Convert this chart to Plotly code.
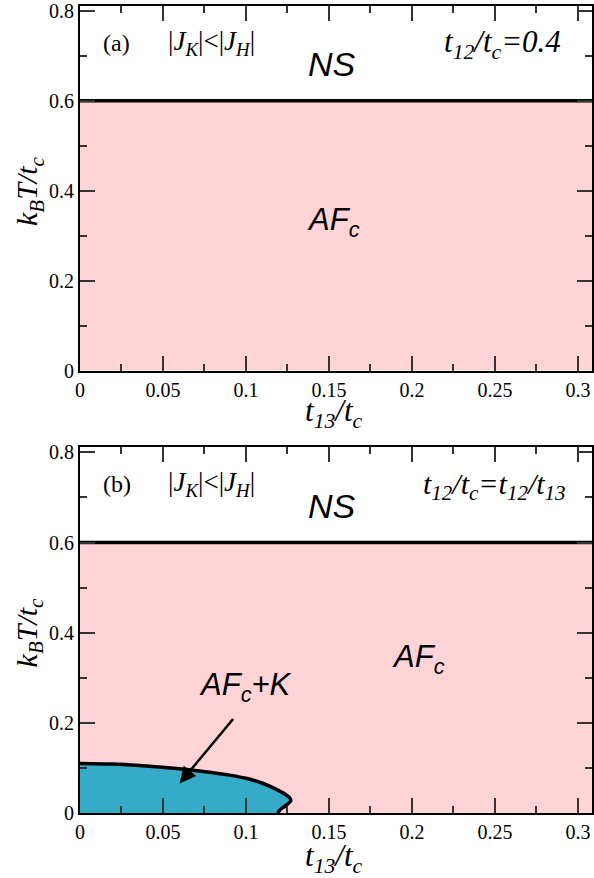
import plotly.graph_objects as go

# ---- data ----
x_range = [0, 0.3085]
y_range = [0, 0.811]
t13_full = [0, 0.32]          # extent of the phase regions along t13/tc
T_ns = [0.6, 0.6]             # NS / AFc transition temperature
# AFc+K boundary (panel b)
t13_b = [0, 0.02, 0.04, 0.063, 0.072, 0.09, 0.10, 0.11, 0.118, 0.1235, 0.1265, 0.127, 0.1255, 0.1235, 0.121, 0.119]
T_b = [0.110, 0.1085, 0.104, 0.097, 0.093, 0.084, 0.077, 0.066, 0.053, 0.042, 0.033, 0.027, 0.021, 0.015, 0.009, 0.0]

x_dtick = 0.05
y_dtick = 0.2

PINK = "#FFD4D6"
BLUE = "#36ABC8"
SERIF = "Liberation Serif"
SANS = "Liberation Sans"

fig = go.Figure()

for xa, ya in [("x", "y"), ("x2", "y2")]:
    fig.add_trace(go.Scatter(x=t13_full, y=T_ns, mode="lines", xaxis=xa, yaxis=ya,
                             line=dict(color="black", width=3.5), fill="tozeroy",
                             fillcolor=PINK, showlegend=False, hoverinfo="skip"))

# blue region (fill)
fig.add_trace(go.Scatter(x=t13_b + [0], y=T_b + [0], mode="lines", xaxis="x2", yaxis="y2",
                         fill="toself", fillcolor=BLUE, line=dict(width=0),
                         showlegend=False, hoverinfo="skip"))
fig.add_trace(go.Scatter(x=t13_b, y=T_b, mode="lines", xaxis="x2", yaxis="y2",
                         line=dict(color="black", width=3.5, shape="spline", smoothing=0.6),
                         showlegend=False, hoverinfo="skip"))

axis_common = dict(showline=True, linewidth=2, linecolor="black", mirror="allticks",
                   ticks="inside", ticklen=15, tickwidth=1.5, tickcolor="#333",
                   showgrid=False, zeroline=False, ticklabeloverflow="allow",
                   tickfont=dict(family=SERIF, size=20, color="black"))
minor_x = dict(ticks="inside", ticklen=7, dtick=x_dtick / 2, tickwidth=1.5, tickcolor="#333")
minor_y = dict(ticks="inside", ticklen=7, dtick=y_dtick / 2, tickwidth=1.5, tickcolor="#333")

fig.update_layout(
    width=594, height=878,
    margin=dict(l=80, r=0, t=5, b=65),
    font=dict(family=SERIF, color="black"),
    plot_bgcolor="white", paper_bgcolor="white",
    xaxis=dict(domain=[0, 1], range=x_range, anchor="y", tick0=0, dtick=x_dtick, minor=minor_x, **axis_common),
    yaxis=dict(domain=[0.5483, 1], range=y_range, anchor="x", tick0=0, dtick=y_dtick, minor=minor_y, **axis_common),
    xaxis2=dict(domain=[0, 1], range=x_range, anchor="y2", tick0=0, dtick=x_dtick, minor=minor_x, **axis_common),
    yaxis2=dict(domain=[0, 0.453], range=y_range, anchor="x2", tick0=0, dtick=y_dtick, minor=minor_y, **axis_common),
)

ann = []
def A(text, x, y, xref, yref, size, family, **kw):
    ann.append(dict(text=text, x=x, y=y, xref=xref, yref=yref, showarrow=False,
                    xanchor="center", yanchor="middle",
                    font=dict(family=family, size=size, color="black"), **kw))

jk = "|<i>J</i><sub><i>K</i></sub>|&lt;|<i>J</i><sub><i>H</i></sub>|"
panels = [("x", "y", "(a)", "<i>t</i><sub><i>12</i></sub><i>/t</i><sub><i>c</i></sub><i>=0.4</i>", 0.2545, 0.1525, 0.331),
          ("x2", "y2", "(b)", "<i>t</i><sub><i>12</i></sub><i>/t</i><sub><i>c</i></sub><i>=t</i><sub><i>12</i></sub><i>/t</i><sub><i>13</i></sub>", 0.2495, 0.204, 0.341)]
for (xr, yr, lab, right, rx, afx, afy) in panels:
    A(lab, 0.022, 0.729, xr, yr, 24, SERIF)
    A(jk, 0.0795, 0.729, xr, yr, 27, SERIF)
    A("<i>NS</i>", 0.152, 0.682, xr, yr, 34, SANS)
    A(right, rx, 0.726, xr, yr, 31 if xr == "x" else 30, SERIF)
    A("<i>AF</i><sub><i>c</i></sub>", afx, afy, xr, yr, 31, SANS)

A("<i>AF</i><sub><i>c</i></sub><i>+K</i>", 0.0996, 0.279, "x2", "y2", 31, SANS)
ann.append(dict(x=0.060, y=0.0656, ax=0.093, ay=0.212, xref="x2", yref="y2", axref="x2", ayref="y2",
                text="", showarrow=True, arrowhead=2, arrowsize=1.3, arrowwidth=2.5, arrowcolor="black"))

# axis titles (positions given in pixels, converted to paper fractions)
W, H, L, R, T, B = 594, 878, 80, 0, 5, 65
def px(x): return (x - L) / (W - L - R)
def py(y): return (H - y - B) / (H - T - B)

ytitle = "<i>k</i><sub><i>B</i></sub><i>T/t</i><sub><i>c</i></sub>"
xtitle = "<i>t</i><sub><i>13</i></sub><i>/t</i><sub><i>c</i></sub>"
for yc in [190, 632]:
    ann.append(dict(text=ytitle, x=px(29), y=py(yc), xref="paper", yref="paper", showarrow=False,
                    xanchor="center", yanchor="middle", textangle=-90,
                    font=dict(family=SERIF, size=30, color="black")))
for yc in [413, 858]:
    ann.append(dict(text=xtitle, x=px(335), y=py(yc), xref="paper", yref="paper", showarrow=False,
                    xanchor="center", yanchor="middle",
                    font=dict(family=SERIF, size=31, color="black")))

fig.update_layout(annotations=ann)
fig.write_html("out.html")
